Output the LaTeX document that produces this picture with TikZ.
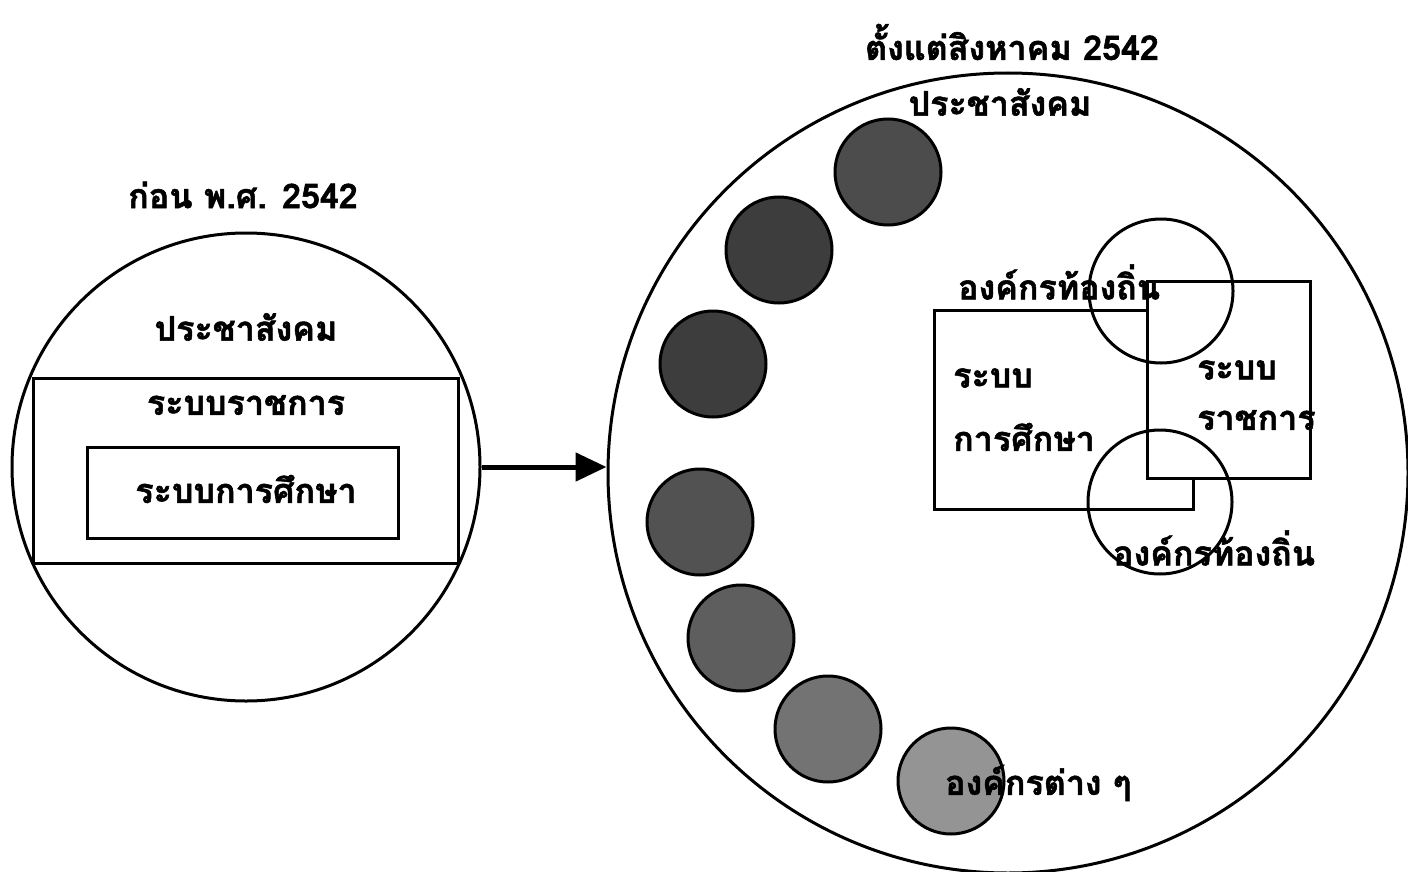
\documentclass[tikz,border=0pt]{standalone}
\usepackage{fontspec}
\newfontfamily\thaifont[Script=Thai, BoldFeatures={FakeBold=1.6}]{Loma}
\usetikzlibrary{arrows.meta}
\tikzset{
  ring/.style={draw, circle, line width=3pt, inner sep=0pt, minimum size=#1},
  blob/.style={draw, circle, line width=3pt, inner sep=0pt, minimum size=106pt, fill=#1},
  box/.style={draw, line width=3pt},
  lbl/.style={inner sep=0pt, font=\thaifont\bfseries\fontsize{34}{40}\selectfont},
}
\definecolor{g1}{gray}{0.30}
\definecolor{g2}{gray}{0.24}
\definecolor{g3}{gray}{0.24}
\definecolor{g4}{gray}{0.32}
\definecolor{g5}{gray}{0.37}
\definecolor{g6}{gray}{0.45}
\definecolor{g7}{gray}{0.58}
\begin{document}
\begin{tikzpicture}[x=1pt,y=-1pt]
\useasboundingbox (0,0) rectangle (1408,872);
% left part
\node[ring=468pt] (lc) at (246,467) {};
\draw[box] (33,378) rectangle (458,563);
\draw[box] (87,447) rectangle (398,538);
\node[lbl] (lt) at (243,195) {ก่อน พ.ศ. 2542};
\node[lbl] (lps) at (246,327) {ประชาสังคม};
\node[lbl] (lrr) at (246,405) {ระบบราชการ};
\node[lbl] (lre) at (246,489) {ระบบการศึกษา};
% right part
\node[ring=800pt] (rc) at (1008,473) {};
\draw[line width=5pt, -{Triangle[length=31pt,width=28pt]}] (lc.east) -- (rc.west |- lc.east);
\node[blob=g1] (b1) at (888,172) {};
\node[blob=g2] (b2) at (779,250) {};
\node[blob=g3] (b3) at (713,364) {};
\node[blob=g4] (b4) at (700,522) {};
\node[blob=g5] (b5) at (741,638) {};
\node[blob=g6] (b6) at (828,729) {};
\node[blob=g7] (b7) at (951,781) {};
\draw[box] (934,310) rectangle (1193,509);
\draw[box, fill=white] (1147,281) rectangle (1310,478);
\node[ring=144pt] (uc) at (1161,291) {};
\node[ring=144pt] (dc) at (1160,502) {};
\node[lbl] (rt) at (1012,42) {ตั้งแต่สิงหาคม 2542};
\node[lbl] (rps) at (1000,102) {ประชาสังคม};
\node[lbl, anchor=west] (ul) at (958,282) {องค์กรท้องถิ่น};
\node[lbl, anchor=west] (dl) at (1113,548) {องค์กรท้องถิ่น};
\node[lbl, anchor=west] (ra1) at (953,378) {ระบบ};
\node[lbl, anchor=west] (ra2) at (953,437) {การศึกษา};
\node[lbl, anchor=west] (rb1) at (1197,370) {ระบบ};
\node[lbl, anchor=west] (rb2) at (1197,420) {ราชการ};
\node[lbl, anchor=west] (org) at (945,783) {องค์กรต่าง ๆ};
\end{tikzpicture}
\end{document}
